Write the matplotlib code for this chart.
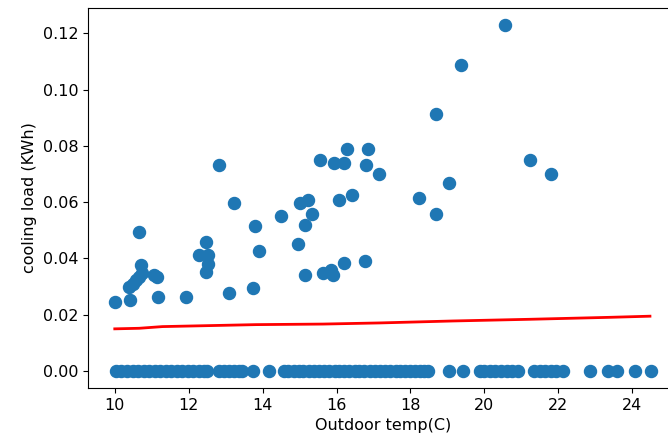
import matplotlib.pyplot as plt

# =========================
# DATA
# =========================
# days with some cooling load
temp_load = [10.0, 10.42, 10.66, 10.70, 10.39, 10.48, 10.57, 10.66, 10.75, 11.07,
             11.15, 11.18, 11.94, 12.28, 12.47, 12.51, 12.51, 12.47, 13.10, 13.80,
             13.91, 13.75, 12.81, 13.23, 14.51, 14.95, 15.01, 15.15, 15.15, 15.24,
             15.33, 15.56, 15.63, 15.85, 15.90, 15.94, 16.08, 16.19, 16.21, 16.28,
             16.42, 16.76, 16.80, 16.85, 17.16, 18.23, 18.70, 18.70, 19.03, 19.38,
             20.55, 21.23, 21.79]
load = [0.0245, 0.0251, 0.0493, 0.0375, 0.0298, 0.0310, 0.0322, 0.0334, 0.0346, 0.0340,
        0.0332, 0.0263, 0.0263, 0.0413, 0.0458, 0.0410, 0.0381, 0.0351, 0.0277, 0.0515,
        0.0426, 0.0295, 0.0732, 0.0596, 0.0552, 0.0452, 0.0596, 0.0519, 0.0340, 0.0608,
        0.0558, 0.0749, 0.0346, 0.0358, 0.0340, 0.0737, 0.0608, 0.0383, 0.0737, 0.0788,
        0.0625, 0.0389, 0.0732, 0.0788, 0.0700, 0.0613, 0.0912, 0.0558, 0.0669, 0.1086,
        0.1228, 0.0749, 0.0700]

# days with zero load
temp_zero = [10.03, 10.18, 10.33, 10.48, 10.63, 10.78, 10.93, 11.08, 11.23, 11.38,
             11.53, 11.68, 11.83, 11.98, 12.13, 12.28, 12.42, 12.49,
             12.83, 12.95, 13.1, 13.22, 13.35, 13.44, 13.73, 14.16,
             14.57, 14.7, 14.85, 14.98, 15.1, 15.25, 15.4, 15.52, 15.65, 15.8,
             15.95, 16.08, 16.2, 16.35, 16.5, 16.62, 16.75, 16.9, 17.05, 17.18,
             17.3, 17.45, 17.6, 17.72, 17.85, 18.0, 18.12, 18.25, 18.38, 18.47,
             19.03, 19.42,
             19.87, 20.0, 20.15, 20.3, 20.45, 20.6, 20.75, 20.91,
             21.34, 21.5, 21.65, 21.8, 21.95, 22.13,
             22.85, 23.35, 23.58, 24.07, 24.5]
zero_load = [0.0] * len(temp_zero)

# fitted line
fit_temp = [10.0, 10.66, 11.29, 13.82, 15.63, 17.16, 19.15, 21.23, 23.40, 24.48]
fit_load = [0.0149, 0.0151, 0.0157, 0.0164, 0.0166, 0.0170, 0.0177, 0.0183, 0.0190, 0.0194]

plt.rcParams["font.size"] = 11.5

fig = plt.figure(figsize=(6.68, 4.44), dpi=100)
ax = fig.add_axes([0.1317, 0.1261, 0.8825, 0.8559])

ax.scatter(temp_load + temp_zero, load + zero_load, s=75, color="#1f77b4")
ax.plot(fit_temp, fit_load, color="red", linewidth=2)

ax.set_xlim(9.275, 25.225)
ax.set_ylim(-0.00614, 0.129)
ax.set_xticks([10, 12, 14, 16, 18, 20, 22, 24])
ax.set_xlabel("Outdoor temp(C)")
ax.set_ylabel("cooling load (KWh)")

fig.savefig("out.png", dpi=100)
